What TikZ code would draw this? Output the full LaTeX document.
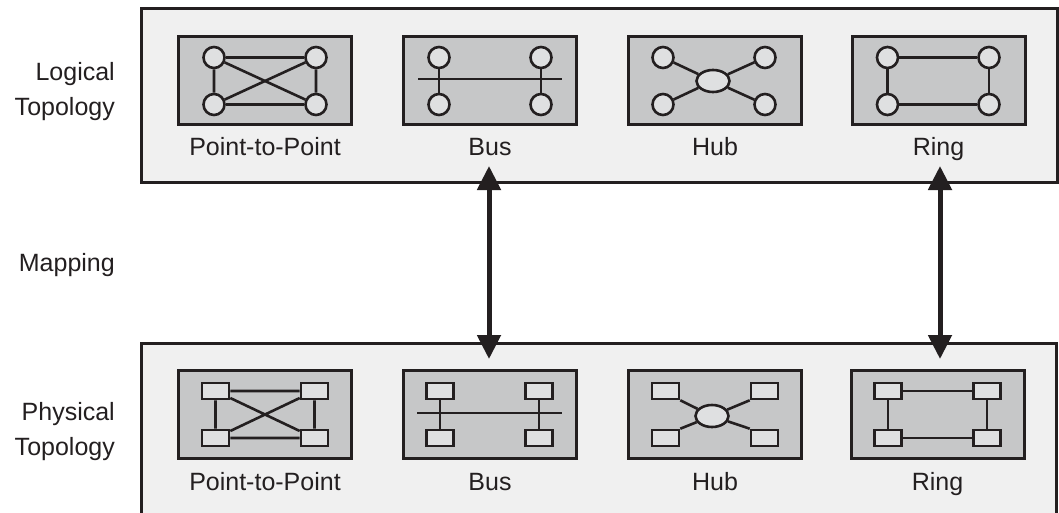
\documentclass[tikz,border=0pt]{standalone}
\usepackage{fontspec}
\setmainfont{Liberation Sans}
\usetikzlibrary{arrows.meta,shapes.geometric}
\definecolor{outerfill}{HTML}{F0F0F0}
\definecolor{innerfill}{HTML}{C6C7C8}
\definecolor{nodefill}{HTML}{DFE0E1}
\definecolor{ink}{HTML}{231F20}
\begin{document}
\begin{tikzpicture}[x=1pt,y=-1pt,
 outerbox/.style={draw=ink,line width=3pt,fill=outerfill},
 panel/.style={draw=ink,line width=3pt,fill=innerfill,minimum width=173pt,minimum height=88pt,inner sep=0pt},
 cnode/.style={circle,draw=ink,line width=2.6pt,fill=nodefill,minimum size=21pt,inner sep=0pt},
 rnode/.style={rectangle,draw=ink,line width=2.6pt,fill=nodefill,minimum width=27pt,minimum height=16pt,inner sep=0pt},
 hubnode/.style={ellipse,draw=ink,line width=2.6pt,fill=nodefill,minimum width=33pt,minimum height=22pt,inner sep=0pt},
 link/.style={draw=ink,line width=2.6pt},
 lbl/.style={font=\fontsize{25}{30}\selectfont,text=ink,inner sep=0pt,anchor=base},
 side/.style={font=\fontsize{25}{30}\selectfont,text=ink,inner sep=0pt,anchor=base east},
 maparrow/.style={draw=ink,line width=5pt,{Triangle[length=24pt,width=23pt]}-{Triangle[length=24pt,width=23pt]}}
]
\useasboundingbox (0,0) rectangle (1059,513);
\clip (0,0) rectangle (1059,513);

% outer boxes
\draw[outerbox] (141,9) rectangle (1057,182.5);
\draw[outerbox] (141,343) rectangle (1056,540);

% side labels
\node[side] (lg1) at (115,81) {Logical};
\node[side] (lg2) at (115,116) {Topology};
\node[side] (mp) at (115,271) {Mapping};
\node[side] (ph1) at (115,420) {Physical};
\node[side] (ph2) at (115,455) {Topology};

% ===== Logical row =====
\node[panel] (lp) at (265,80.5) {};
\node[panel] (lb) at (490,80.5) {};
\node[panel] (lh) at (715,80.5) {};
\node[panel] (lr) at (938.5,80.5) {};
\node[lbl] (lpt) at (265,156) {Point-to-Point};
\node[lbl] (lbt) at (490,156) {Bus};
\node[lbl] (lht) at (715,156) {Hub};
\node[lbl] (lrt) at (938.5,156) {Ring};

% point-to-point
\node[cnode] (lp1) at (214,57.5) {};
\node[cnode] (lp2) at (316,57.5) {};
\node[cnode] (lp3) at (214,104.5) {};
\node[cnode] (lp4) at (316,104.5) {};
\draw[link] (lp1) -- (lp2) (lp3) -- (lp4) (lp1) -- (lp3) (lp2) -- (lp4) (lp1) -- (lp4) (lp2) -- (lp3);

% bus
\coordinate (lbL) at (418,79);
\coordinate (lbR) at (562,79);
\node[cnode] (lb1) at (439,57.5) {};
\node[cnode] (lb2) at (541,57.5) {};
\node[cnode] (lb3) at (439,104.5) {};
\node[cnode] (lb4) at (541,104.5) {};
\draw[link] (lbL) -- (lbR);
\draw[link] (lb1) -- (lb3) (lb2) -- (lb4);

% hub
\node[hubnode] (lhc) at (713,81) {};
\node[cnode] (lh1) at (663,57.5) {};
\node[cnode] (lh2) at (765,57.5) {};
\node[cnode] (lh3) at (663,104.5) {};
\node[cnode] (lh4) at (765,104.5) {};
\draw[link] (lh1) -- (lhc) (lh2) -- (lhc) (lh3) -- (lhc) (lh4) -- (lhc);

% ring
\node[cnode] (lr1) at (887.5,57.5) {};
\node[cnode] (lr2) at (989,57.5) {};
\node[cnode] (lr3) at (887.5,104.5) {};
\node[cnode] (lr4) at (989,104.5) {};
\draw[link] (lr1) -- (lr2) (lr3) -- (lr4) (lr1) -- (lr3) (lr2) -- (lr4);

% ===== Physical row =====
\node[panel] (pp) at (265,414.5) {};
\node[panel] (pb) at (490,414.5) {};
\node[panel] (ph) at (715,414.5) {};
\node[panel] (pr) at (937.5,414.5) {};
\node[lbl] (ppt) at (265,490) {Point-to-Point};
\node[lbl] (pbt) at (490,490) {Bus};
\node[lbl] (pht) at (715,490) {Hub};
\node[lbl] (prt) at (937.5,490) {Ring};

% point-to-point
\node[rnode] (pp1) at (215.5,391) {};
\node[rnode] (pp2) at (314.5,391) {};
\node[rnode] (pp3) at (215.5,438) {};
\node[rnode] (pp4) at (314.5,438) {};
\draw[link] (pp1) -- (pp2) (pp3) -- (pp4) (pp1) -- (pp3) (pp2) -- (pp4) (pp1) -- (pp4) (pp2) -- (pp3);

% bus
\coordinate (pbL) at (417,413);
\coordinate (pbR) at (562,413);
\node[rnode] (pb1) at (440,391) {};
\node[rnode] (pb2) at (539,391) {};
\node[rnode] (pb3) at (440,438) {};
\node[rnode] (pb4) at (539,438) {};
\draw[link] (pbL) -- (pbR);
\draw[link] (pb1) -- (pb3) (pb2) -- (pb4);

% hub
\node[hubnode] (phc) at (712,416) {};
\node[rnode] (ph1) at (665.5,391) {};
\node[rnode] (ph2) at (764.5,391) {};
\node[rnode] (ph3) at (665.5,438) {};
\node[rnode] (ph4) at (764.5,438) {};
\draw[link] (ph1.south east) -- (phc) (ph2.south west) -- (phc) (ph3.north east) -- (phc) (ph4.north west) -- (phc);

% ring
\node[rnode] (pr1) at (888,391) {};
\node[rnode] (pr2) at (987,391) {};
\node[rnode] (pr3) at (888,438) {};
\node[rnode] (pr4) at (987,438) {};
\draw[link] (pr1) -- (pr2) (pr3) -- (pr4) (pr1) -- (pr3) (pr2) -- (pr4);

% mapping arrows
\coordinate (mbU) at (489,166);
\coordinate (mbD) at (489,359);
\coordinate (mrU) at (940,166);
\coordinate (mrD) at (940,359);
\draw[maparrow] (mbU) -- (mbD);
\draw[maparrow] (mrU) -- (mrD);
\end{tikzpicture}
\end{document}
